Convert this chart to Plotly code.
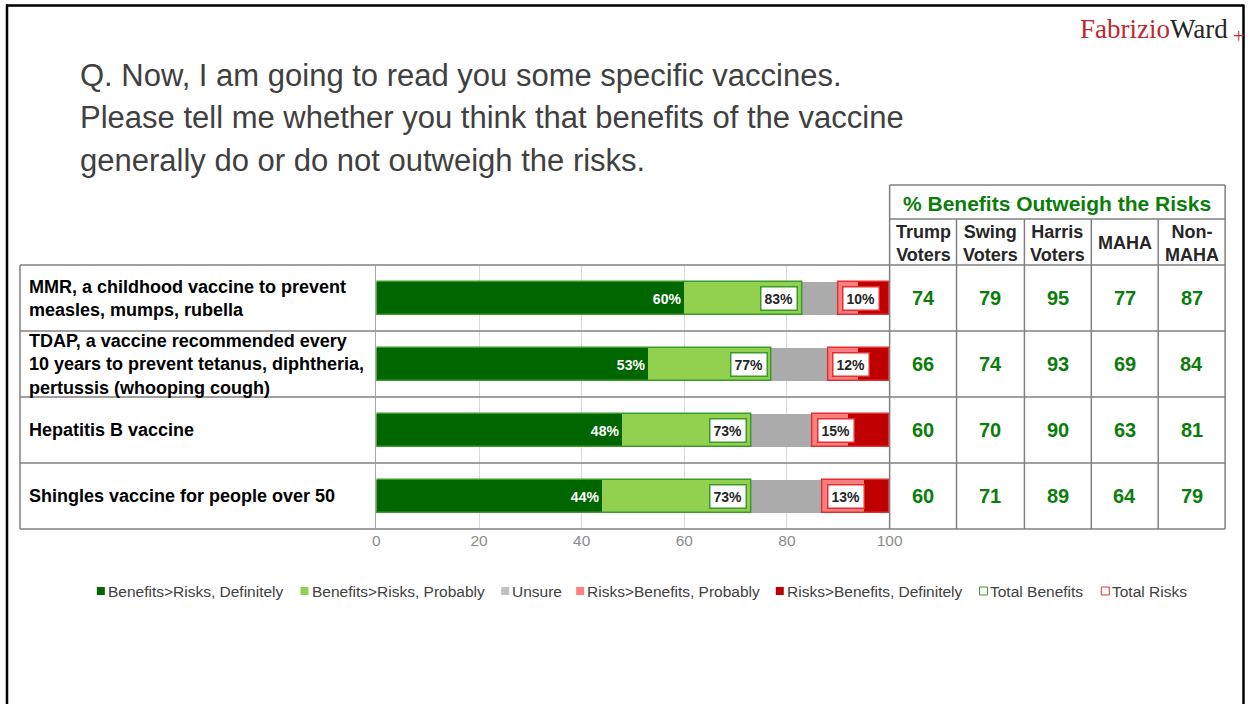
import plotly.graph_objects as go

W, H = 1257, 704

# ---------------- data ----------------
row_ids = ["MMR", "TDAP", "HepB", "Shingles"]
row_labels = [
    "MMR, a childhood vaccine to prevent<br>measles, mumps, rubella",
    "TDAP, a vaccine recommended every<br>10 years to prevent tetanus, diphtheria,<br>pertussis (whooping cough)",
    "Hepatitis B vaccine",
    "Shingles vaccine for people over 50",
]
ben_definitely = [60, 53, 48, 44]
ben_probably = [23, 24, 25, 29]
unsure = [7, 11, 12, 14]
risk_probably = [4, 6, 7, 8]
risk_definitely = [6, 6, 8, 5]
total_benefits = [83, 77, 73, 73]
total_risks = [10, 12, 15, 13]

group_names = ["Trump<br>Voters", "Swing<br>Voters", "Harris<br>Voters", "MAHA", "Non-<br>MAHA"]
group_values = [
    [74, 79, 95, 77, 87],
    [66, 74, 93, 69, 84],
    [60, 70, 90, 63, 81],
    [60, 71, 89, 64, 79],
]
x_ticks = [0, 20, 40, 60, 80, 100]

series_names = ["Benefits>Risks, Definitely", "Benefits>Risks, Probably", "Unsure",
                "Risks>Benefits, Probably", "Risks>Benefits, Definitely"]
series_colors = ["#006600", "#92D050", "#ABABAB", "#FF7F80", "#C00000"]

# ---------------- helpers ----------------
# the photographed page maps the paper slightly narrower; compensate horizontally
SX, OX = 0.988, 4.0

def X(px):
    p = (px - OX) / SX
    return min(max(p, 0.5), W - 0.5) / W

def Y(py):
    return 1 - py / H

FONT = "Arial, Liberation Sans, sans-serif"
GREEN_TXT = "#0B7D0B"
LINE = "#808080"

fig = go.Figure()

segments = [ben_definitely, ben_probably, unsure, risk_probably, risk_definitely]
cum = [0] * len(row_ids)
for i, seg in enumerate(segments):
    base = list(cum)
    kw = {}
    if i == 0:
        kw = dict(text=[f"<b>{v}%</b>" for v in seg], textposition="inside",
                  insidetextanchor="end",
                  textfont=dict(color="white", size=14, family=FONT))
    fig.add_trace(go.Bar(
        y=row_ids, x=seg, base=base, orientation="h", width=0.5,
        name=series_names[i], marker=dict(color=series_colors[i], line=dict(width=0)),
        showlegend=False, **kw))
    cum = [c + s for c, s in zip(cum, seg)]

fig.add_trace(go.Bar(
    y=row_ids, x=total_benefits, base=[0] * 4, orientation="h", width=0.5,
    name="Total Benefits", marker=dict(color="rgba(0,0,0,0)", line=dict(color="#3A9A2A", width=1.5)),
    showlegend=False))
fig.add_trace(go.Bar(
    y=row_ids, x=total_risks, base=[100 - r for r in total_risks], orientation="h", width=0.5,
    name="Total Risks", marker=dict(color="rgba(0,0,0,0)", line=dict(color="#E03030", width=1.5)),
    showlegend=False))

ann = []
for rid, tb, tr in zip(row_ids, total_benefits, total_risks):
    ann.append(dict(x=tb, y=rid, xref="x", yref="y", text=f"<b>{tb}%</b>", showarrow=False,
                    xanchor="right", yanchor="middle", xshift=-4, bgcolor="white",
                    bordercolor="#3A9A2A", borderwidth=1.5, borderpad=3,
                    font=dict(size=14, color="#262626", family=FONT)))
    ann.append(dict(x=100 - tr, y=rid, xref="x", yref="y", text=f"<b>{tr}%</b>", showarrow=False,
                    xanchor="left", yanchor="middle", xshift=4, bgcolor="white",
                    bordercolor="#E03030", borderwidth=1.5, borderpad=3,
                    font=dict(size=14, color="#262626", family=FONT)))

for rid, lab in zip(row_ids, row_labels):
    ann.append(dict(x=X(27), y=rid, xref="paper", yref="y", text=f"<b>{lab}</b>", showarrow=False,
                    xanchor="left", yanchor="middle", align="left",
                    font=dict(size=18, color="#000000", family=FONT)))

col_edges = [891, 958, 1026, 1093, 1160, 1227]
col_centers = [(a + b) / 2 for a, b in zip(col_edges[:-1], col_edges[1:])]
for rid, vals in zip(row_ids, group_values):
    for cx, v in zip(col_centers, vals):
        ann.append(dict(x=X(cx), y=rid, xref="paper", yref="y", text=f"<b>{v}</b>", showarrow=False,
                        xanchor="center", yanchor="middle",
                        font=dict(size=20, color=GREEN_TXT, family=FONT)))
for cx, g in zip(col_centers, group_names):
    ann.append(dict(x=X(cx), y=Y(243), xref="paper", yref="paper", text=f"<b>{g}</b>", showarrow=False,
                    xanchor="center", yanchor="middle",
                    font=dict(size=18, color="#262626", family=FONT)))
ann.append(dict(x=X(1059), y=Y(203), xref="paper", yref="paper",
                text="<b>% Benefits Outweigh the Risks</b>", showarrow=False,
                xanchor="center", yanchor="middle",
                font=dict(size=21, color=GREEN_TXT, family=FONT)))

title_lines = ["Q. Now, I am going to read you some specific vaccines.",
               "Please tell me whether you think that benefits of the vaccine",
               "generally do or do not outweigh the risks."]
for k, t in enumerate(title_lines):
    ann.append(dict(x=X(78), y=Y(75 + 42.5 * k), xref="paper", yref="paper", text=t, showarrow=False,
                    xanchor="left", yanchor="middle",
                    font=dict(size=31, color="#404040", family=FONT)))

ann.append(dict(x=X(1232), y=Y(29), xref="paper", yref="paper",
                text="<span style='color:#C0272D'>Fabrizio</span><span style='color:#262626'>Ward</span>",
                showarrow=False, xanchor="right", yanchor="middle",
                font=dict(size=27, family="Liberation Serif, Times New Roman, serif")))
ann.append(dict(x=X(1240), y=Y(36), xref="paper", yref="paper", text="+", showarrow=False,
                xanchor="center", yanchor="middle",
                font=dict(size=20, color="#C0272D", family="Liberation Serif, serif")))

legend_items = [
    (97, series_names[0], series_colors[0], True),
    (301, series_names[1], series_colors[1], True),
    (502, series_names[2], "#C0C0C0", True),
    (577, series_names[3], series_colors[3], True),
    (777, series_names[4], series_colors[4], True),
    (981, "Total Benefits", "#3A9A2A", False),
    (1103, "Total Risks", "#E03030", False),
]
shapes = []
for lx, name, col, filled in legend_items:
    shapes.append(dict(type="rect", xref="paper", yref="paper", x0=X(lx), x1=X(lx + 8),
                       y0=Y(595), y1=Y(587), fillcolor=col if filled else "white",
                       line=dict(color=col, width=1 if not filled else 0)))
    ann.append(dict(x=X(lx + 9), y=Y(591), xref="paper", yref="paper", text=name, showarrow=False,
                    xanchor="left", yanchor="middle",
                    font=dict(size=15.5, color="#404040", family=FONT)))

def hline(y, x0, x1, w=1.5, col=LINE):
    shapes.append(dict(type="line", xref="paper", yref="paper", x0=X(x0), x1=X(x1), y0=Y(y), y1=Y(y),
                       line=dict(color=col, width=w)))

def vline(x, y0, y1, w=1.5, col=LINE):
    shapes.append(dict(type="line", xref="paper", yref="paper", x0=X(x), x1=X(x), y0=Y(y0), y1=Y(y1),
                       line=dict(color=col, width=w)))

for yy in [265, 331, 397, 463, 529]:
    hline(yy, 20, 1227)
hline(185, 891, 1227)
hline(219, 891, 1227)
vline(20, 265, 529)
vline(376, 265, 529, w=1, col="#A0A0A0")
vline(891, 185, 529)
vline(1227, 185, 529)
for cx in col_edges[1:-1]:
    vline(cx, 219, 529)

# slide frame
vline(7, 4.5, 704, w=2.5, col="#000000")
vline(1254, 4.5, 704, w=2.5, col="#000000")
hline(5.5, 6, 1255, w=2.5, col="#000000")

fig.update_layout(
    width=W, height=H,
    autosize=False,
    margin=dict(l=0, r=0, t=0, b=0),
    paper_bgcolor="white", plot_bgcolor="white",
    barmode="overlay", bargap=0,
    showlegend=False,
    xaxis=dict(domain=[X(377), X(891)], range=[0, 100], tickvals=x_ticks,
               showgrid=True, gridcolor="#D9D9D9", gridwidth=1, zeroline=False,
               showline=False, ticks="", tickfont=dict(size=15.5, color="#8C8C8C", family=FONT)),
    yaxis=dict(domain=[Y(529), Y(265)], categoryorder="array", categoryarray=row_ids,
               range=[3.5, -0.5], showticklabels=False, showgrid=False, zeroline=False),
    annotations=ann,
    shapes=shapes,
)

fig.write_html("out.html")
